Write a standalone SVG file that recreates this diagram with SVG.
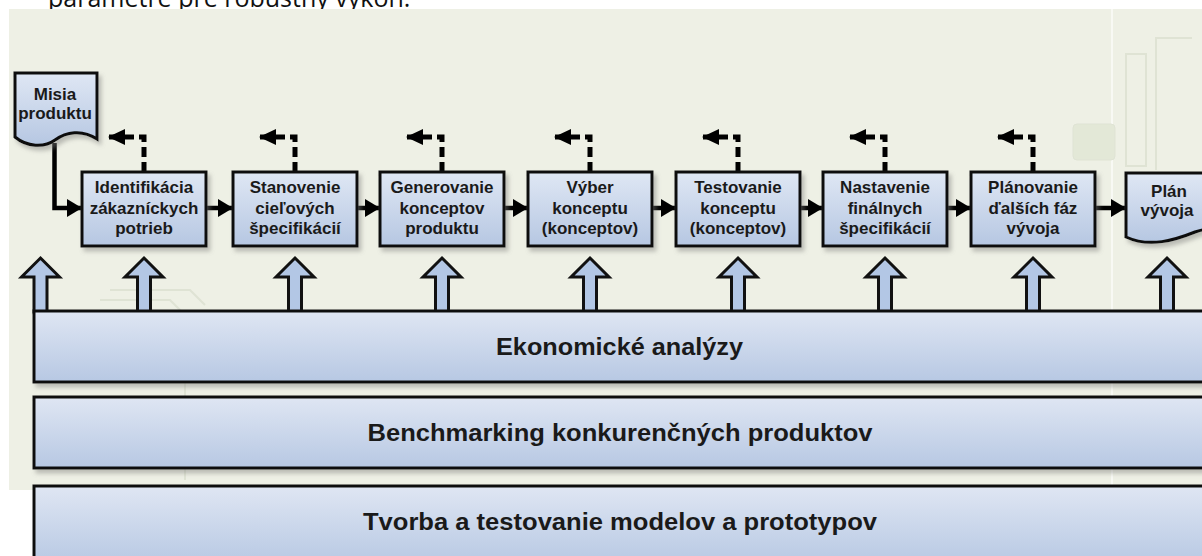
<svg xmlns="http://www.w3.org/2000/svg" width="1202" height="556" viewBox="0 0 1202 556">
<style>
.bx{fill:url(#gBox);stroke:#111;stroke-width:3;filter:url(#sh)}
.band{fill:url(#gBand);stroke:#111;stroke-width:3;filter:url(#sh)}
.t{font-family:"Liberation Sans",Arial,sans-serif;font-weight:bold;font-size:17px;fill:#1a1a1a;text-anchor:middle}
.bt{font-family:"Liberation Sans",Arial,sans-serif;font-weight:bold;font-size:23px;fill:#1a1a1a;text-anchor:middle}
.flow{fill:none;stroke:#000;stroke-width:4.5}
.fb{fill:none;stroke:#000;stroke-width:5;stroke-dasharray:10,5}
.up{fill:#b3c7e5;stroke:#111;stroke-width:3;stroke-linejoin:miter}
.deco{fill:none;stroke:#dfe3d4;stroke-width:2}
</style>
<defs>
<linearGradient id="gBox" x1="0" y1="0" x2="0" y2="1">
<stop offset="0" stop-color="#dfe7f4"/><stop offset="1" stop-color="#b6c7e2"/>
</linearGradient>
<linearGradient id="gBand" x1="0" y1="0" x2="0" y2="1">
<stop offset="0" stop-color="#dfe6f3"/><stop offset="1" stop-color="#b7c8e3"/>
</linearGradient>
<filter id="sh" x="-10%" y="-10%" width="130%" height="140%">
<feDropShadow dx="3" dy="4" stdDeviation="2" flood-color="#7a7d78" flood-opacity="0.45"/>
</filter>
<marker id="ah" markerWidth="16" markerHeight="18" refX="15" refY="9" orient="auto" markerUnits="userSpaceOnUse">
<path d="M0,0 L15,9 L0,18 Z" fill="#000"/>
</marker>
<marker id="ahd" markerWidth="18" markerHeight="16" refX="17" refY="8" orient="auto" markerUnits="userSpaceOnUse">
<path d="M0,0 L17,8 L0,16 Z" fill="#000"/>
</marker>
</defs>
<rect x="0" y="0" width="1202" height="556" fill="#ffffff"/>
<text x="48" y="7" font-family="'Open Sans','DejaVu Sans',sans-serif" font-size="25" fill="#111">parametre pre robustný výkon.</text>
<rect x="9" y="9" width="1193" height="481" fill="#eef0e5"/>
<g id="background-deco">
<line x1="1112" y1="9" x2="1112" y2="490" stroke="#f8f9f4" stroke-width="2"/>
<rect x="1126" y="54" width="20" height="112" class="deco"/>
<path d="M1156,170 V38 H1192" class="deco"/>
<rect x="1073" y="124" width="42" height="36" rx="4" fill="#e3e8d7" stroke="#dfe3d4"/>
<path d="M100,300 H170 L185,315 V480 M110,290 H190 L205,305" class="deco"/>
</g>
<g id="connectors">
<polygon class="up" points="40.5,258 59.5,277 47,277 47,312 34,312 34,277 21.5,277"/>
<polygon class="up" points="144,258 163,277 150.5,277 150.5,312 137.5,312 137.5,277 125,277"/>
<polygon class="up" points="295,258 314,277 301.5,277 301.5,312 288.5,312 288.5,277 276,277"/>
<polygon class="up" points="442,258 461,277 448.5,277 448.5,312 435.5,312 435.5,277 423,277"/>
<polygon class="up" points="590,258 609,277 596.5,277 596.5,312 583.5,312 583.5,277 571,277"/>
<polygon class="up" points="738,258 757,277 744.5,277 744.5,312 731.5,312 731.5,277 719,277"/>
<polygon class="up" points="885,258 904,277 891.5,277 891.5,312 878.5,312 878.5,277 866,277"/>
<polygon class="up" points="1033,258 1052,277 1039.5,277 1039.5,312 1026.5,312 1026.5,277 1014,277"/>
<polygon class="up" points="1167,258 1186,277 1173.5,277 1173.5,312 1160.5,312 1160.5,277 1148,277"/>
<path class="flow" d="M54.5,143 V208 H82" marker-end="url(#ah)"/>
<path class="flow" d="M206,208 H233" marker-end="url(#ah)"/>
<path class="flow" d="M358,208 H380" marker-end="url(#ah)"/>
<path class="flow" d="M505,208 H528" marker-end="url(#ah)"/>
<path class="flow" d="M652,208 H676" marker-end="url(#ah)"/>
<path class="flow" d="M800,208 H823" marker-end="url(#ah)"/>
<path class="flow" d="M948,208 H971" marker-end="url(#ah)"/>
<path class="flow" d="M1095,208 H1126" stroke-width="3" marker-end="url(#ah)"/>
<path class="fb" d="M144,172 V137 H108" marker-end="url(#ahd)"/>
<path class="fb" d="M295,172 V137 H259" marker-end="url(#ahd)"/>
<path class="fb" d="M442,172 V137 H406" marker-end="url(#ahd)"/>
<path class="fb" d="M590,172 V137 H554" marker-end="url(#ahd)"/>
<path class="fb" d="M738,172 V137 H702" marker-end="url(#ahd)"/>
<path class="fb" d="M885,172 V137 H849" marker-end="url(#ahd)"/>
<path class="fb" d="M1033,172 V137 H997" marker-end="url(#ahd)"/>
</g>
<g id="misia">
<path class="bx" d="M15,73 H97 V139 C82,129 66,132 55,140 C44,148 27,147 15,137 Z"/>
<text class="t" x="55" y="100">Misia</text>
<text class="t" x="55" y="119">produktu</text>
</g>
<g id="n1"><rect class="bx" x="82" y="172" width="124" height="74"/>
<text class="t" x="144" y="193">Identifikácia</text><text class="t" x="144" y="213.5">zákazníckych</text><text class="t" x="144" y="234">potrieb</text></g>
<g id="n2"><rect class="bx" x="233" y="172" width="124" height="74"/>
<text class="t" x="295" y="193">Stanovenie</text><text class="t" x="295" y="213.5">cieľových</text><text class="t" x="295" y="234">špecifikácií</text></g>
<g id="n3"><rect class="bx" x="380" y="172" width="124" height="74"/>
<text class="t" x="442" y="193">Generovanie</text><text class="t" x="442" y="213.5">konceptov</text><text class="t" x="442" y="234">produktu</text></g>
<g id="n4"><rect class="bx" x="528" y="172" width="124" height="74"/>
<text class="t" x="590" y="193">Výber</text><text class="t" x="590" y="213.5">konceptu</text><text class="t" x="590" y="234">(konceptov)</text></g>
<g id="n5"><rect class="bx" x="676" y="172" width="124" height="74"/>
<text class="t" x="738" y="193">Testovanie</text><text class="t" x="738" y="213.5">konceptu</text><text class="t" x="738" y="234">(konceptov)</text></g>
<g id="n6"><rect class="bx" x="823" y="172" width="124" height="74"/>
<text class="t" x="885" y="193">Nastavenie</text><text class="t" x="885" y="213.5">finálnych</text><text class="t" x="885" y="234">špecifikácií</text></g>
<g id="n7"><rect class="bx" x="971" y="172" width="124" height="74"/>
<text class="t" x="1033" y="193">Plánovanie</text><text class="t" x="1033" y="213.5">ďalších fáz</text><text class="t" x="1033" y="234">vývoja</text></g>
<g id="plan">
<path class="bx" d="M1126,173 H1250 V236 C1230,228 1212,226 1195,232 C1175,240 1150,248 1126,237 Z"/>
<text class="t" x="1169" y="197">Plán</text>
<text class="t" x="1167" y="216">vývoja</text>
</g>
<g id="ekonomicke"><rect class="band" x="34" y="311" width="1180" height="71"/>
<text class="bt" x="619.5" y="355" textLength="247" lengthAdjust="spacingAndGlyphs">Ekonomické analýzy</text></g>
<g id="benchmarking"><rect class="band" x="34" y="397" width="1180" height="71"/>
<text class="bt" x="620" y="441" textLength="505" lengthAdjust="spacingAndGlyphs">Benchmarking konkurenčných produktov</text></g>
<g id="tvorba"><rect class="band" x="34" y="486" width="1180" height="80"/>
<text class="bt" x="620" y="530" textLength="514" lengthAdjust="spacingAndGlyphs">Tvorba a testovanie modelov a prototypov</text></g>
</svg>
